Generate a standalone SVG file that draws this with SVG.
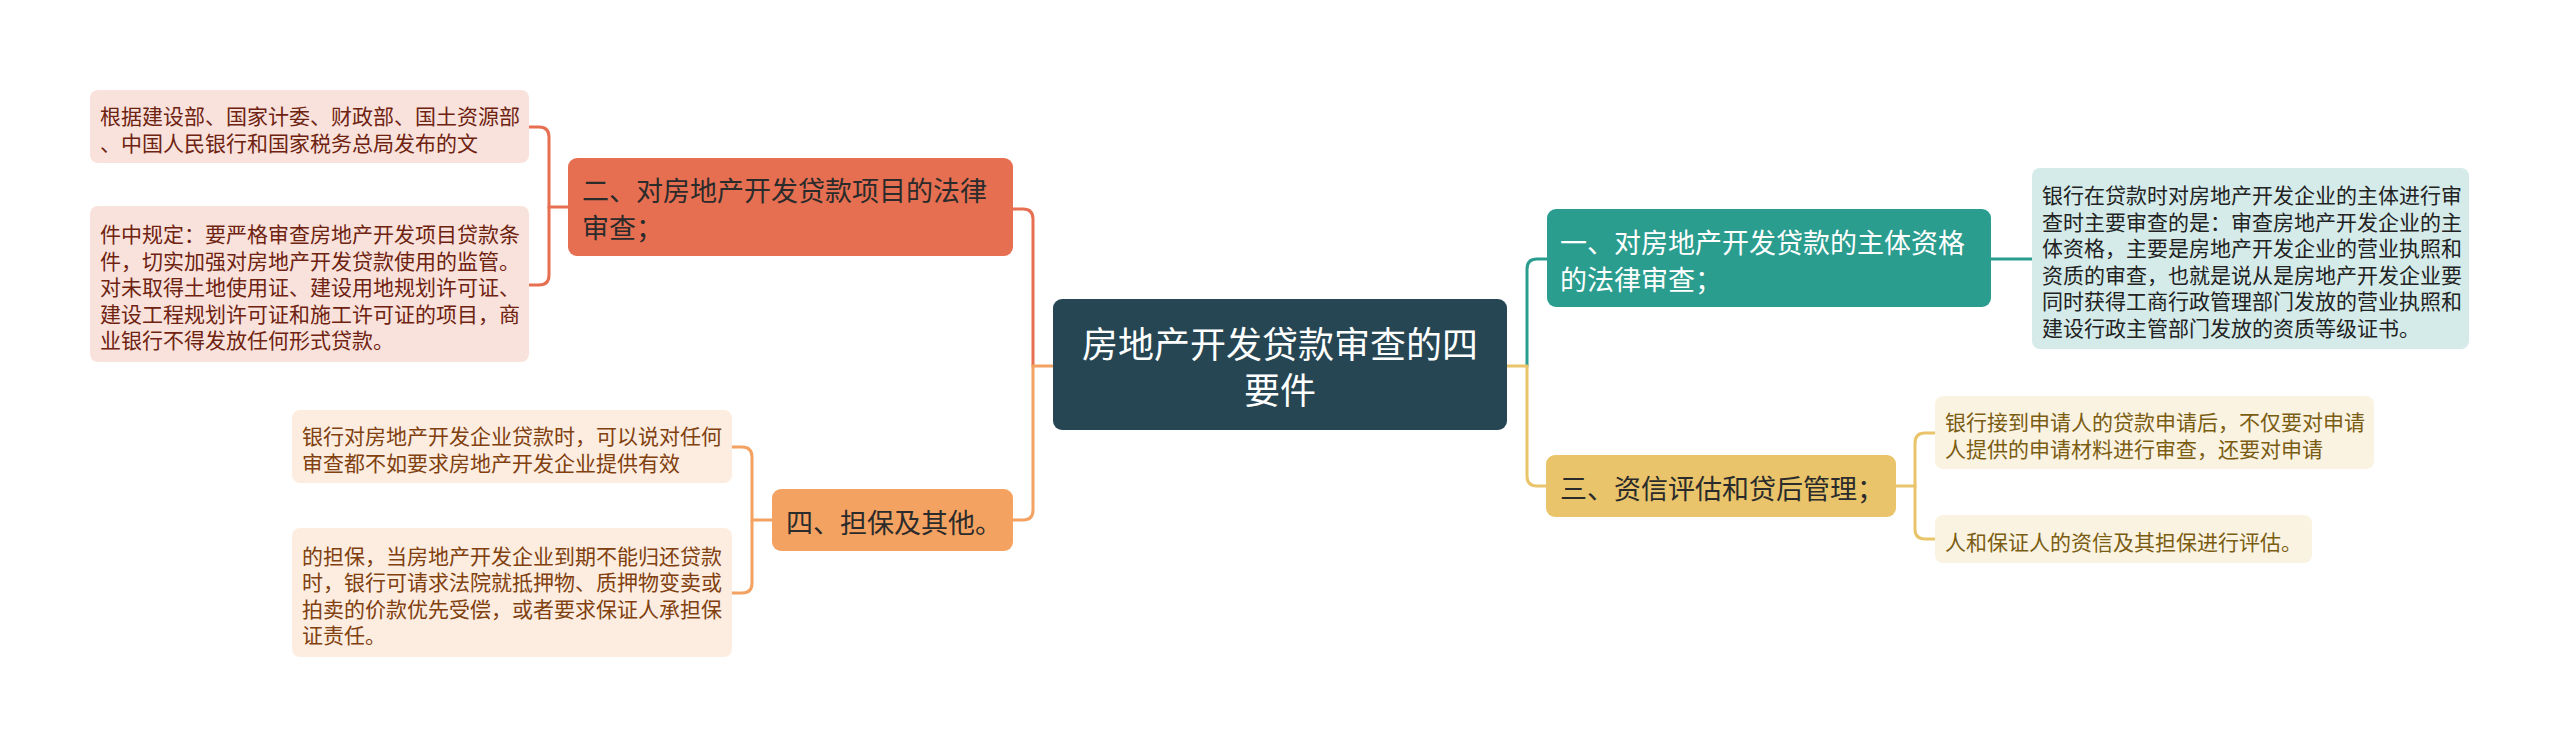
<svg xmlns="http://www.w3.org/2000/svg" width="2560" height="747" viewBox="0 0 2560 747">
<style>
text{font-family:"Noto Sans CJK SC","Noto Sans",sans-serif;dominant-baseline:central}
.leaf{font-size:21px}
.node{font-size:27px}
.center{font-size:36px;fill:#ffffff;text-anchor:middle}
.c{fill:none;stroke-width:3;stroke-linecap:round}
</style>
<rect width="2560" height="747" fill="#ffffff"/>
<g id="connectors">
  <path class="c" stroke="#e76f51" d="M1033,366 V219 Q1033,209 1023,209 H1013"/>
  <path class="c" stroke="#f4a261" d="M1053,366 H1033 V510 Q1033,520 1023,520 H1013"/>
  <path class="c" stroke="#2a9d8f" d="M1527,366 V269 Q1527,259 1537,259 H1547"/>
  <path class="c" stroke="#e9c46a" d="M1507,366 H1527 V476 Q1527,486 1537,486 H1546"/>
  <path class="c" stroke="#e76f51" d="M568,207 H549 V137 Q549,127 539,127 H529"/>
  <path class="c" stroke="#e76f51" d="M549,207 V275 Q549,285 539,285 H529"/>
  <path class="c" stroke="#f4a261" d="M772,520 H752 V457 Q752,447 742,447 H732"/>
  <path class="c" stroke="#f4a261" d="M752,520 V583 Q752,593 742,593 H732"/>
  <path class="c" stroke="#2a9d8f" d="M1991,259 H2032"/>
  <path class="c" stroke="#e9c46a" d="M1896,486 H1915 V443 Q1915,433 1925,433 H1935"/>
  <path class="c" stroke="#e9c46a" d="M1915,486 V529 Q1915,539 1925,539 H1935"/>
</g>
<g id="center">
  <rect x="1053" y="299" width="454" height="131" rx="9" fill="#264653"/>
  <text class="center" x="1280" y="342">房地产开发贷款审查的四</text>
  <text class="center" x="1280" y="388">要件</text>
</g>
<g id="node1">
  <rect x="1547" y="209" width="444" height="98" rx="9" fill="#2a9d8f"/>
  <text class="node" x="1560" y="241.5" fill="#ffffff">一、对房地产开发贷款的主体资格</text>
  <text class="node" x="1560" y="278.5" fill="#ffffff">的法律审查；</text>
</g>
<g id="leaf1">
  <rect x="2032" y="168" width="437" height="181" rx="8" fill="#d4ebe9"/>
  <text class="leaf" x="2042" y="194.25" fill="#222222">银行在贷款时对房地产开发企业的主体进行审</text>
  <text class="leaf" x="2042" y="220.75" fill="#222222">查时主要审查的是：审查房地产开发企业的主</text>
  <text class="leaf" x="2042" y="247.25" fill="#222222">体资格，主要是房地产开发企业的营业执照和</text>
  <text class="leaf" x="2042" y="273.75" fill="#222222">资质的审查，也就是说从是房地产开发企业要</text>
  <text class="leaf" x="2042" y="300.25" fill="#222222">同时获得工商行政管理部门发放的营业执照和</text>
  <text class="leaf" x="2042" y="326.75" fill="#222222">建设行政主管部门发放的资质等级证书。</text>
</g>
<g id="node2">
  <rect x="568" y="158" width="445" height="98" rx="9" fill="#e76f51"/>
  <text class="node" x="582" y="189.5" fill="#2b2b2b">二、对房地产开发贷款项目的法律</text>
  <text class="node" x="582" y="226.5" fill="#2b2b2b">审查；</text>
</g>
<g id="leaf2a">
  <rect x="90" y="90" width="439" height="73" rx="8" fill="#fae2dc"/>
  <text class="leaf" x="100" y="115.25" fill="#6e2311">根据建设部、国家计委、财政部、国土资源部</text>
  <text class="leaf" x="100" y="141.75" fill="#6e2311">、中国人民银行和国家税务总局发布的文</text>
</g>
<g id="leaf2b">
  <rect x="90" y="206" width="439" height="156" rx="8" fill="#fae2dc"/>
  <text class="leaf" x="100" y="233" fill="#6e2311">件中规定：要严格审查房地产开发项目贷款条</text>
  <text class="leaf" x="100" y="259.5" fill="#6e2311">件，切实加强对房地产开发贷款使用的监管。</text>
  <text class="leaf" x="100" y="286" fill="#6e2311">对未取得土地使用证、建设用地规划许可证、</text>
  <text class="leaf" x="100" y="312.5" fill="#6e2311">建设工程规划许可证和施工许可证的项目，商</text>
  <text class="leaf" x="100" y="339" fill="#6e2311">业银行不得发放任何形式贷款。</text>
</g>
<g id="node3">
  <rect x="1546" y="455" width="350" height="62" rx="9" fill="#e9c46a"/>
  <text class="node" x="1560" y="487" fill="#2b2b2b">三、资信评估和贷后管理；</text>
</g>
<g id="leaf3a">
  <rect x="1935" y="396" width="439" height="73" rx="8" fill="#fbf3e1"/>
  <text class="leaf" x="1945" y="421.25" fill="#7a5c12">银行接到申请人的贷款申请后，不仅要对申请</text>
  <text class="leaf" x="1945" y="447.75" fill="#7a5c12">人提供的申请材料进行审查，还要对申请</text>
</g>
<g id="leaf3b">
  <rect x="1935" y="515" width="377" height="48" rx="8" fill="#fbf3e1"/>
  <text class="leaf" x="1945" y="541" fill="#7a5c12">人和保证人的资信及其担保进行评估。</text>
</g>
<g id="node4">
  <rect x="772" y="489" width="241" height="62" rx="9" fill="#f4a261"/>
  <text class="node" x="786" y="521" fill="#2b2b2b">四、担保及其他。</text>
</g>
<g id="leaf4a">
  <rect x="292" y="410" width="440" height="73" rx="8" fill="#fdede0"/>
  <text class="leaf" x="302" y="435.25" fill="#80400f">银行对房地产开发企业贷款时，可以说对任何</text>
  <text class="leaf" x="302" y="461.75" fill="#80400f">审查都不如要求房地产开发企业提供有效</text>
</g>
<g id="leaf4b">
  <rect x="292" y="528" width="440" height="129" rx="8" fill="#fdede0"/>
  <text class="leaf" x="302" y="554.75" fill="#80400f">的担保，当房地产开发企业到期不能归还贷款</text>
  <text class="leaf" x="302" y="581.25" fill="#80400f">时，银行可请求法院就抵押物、质押物变卖或</text>
  <text class="leaf" x="302" y="607.75" fill="#80400f">拍卖的价款优先受偿，或者要求保证人承担保</text>
  <text class="leaf" x="302" y="634.25" fill="#80400f">证责任。</text>
</g>
</svg>
